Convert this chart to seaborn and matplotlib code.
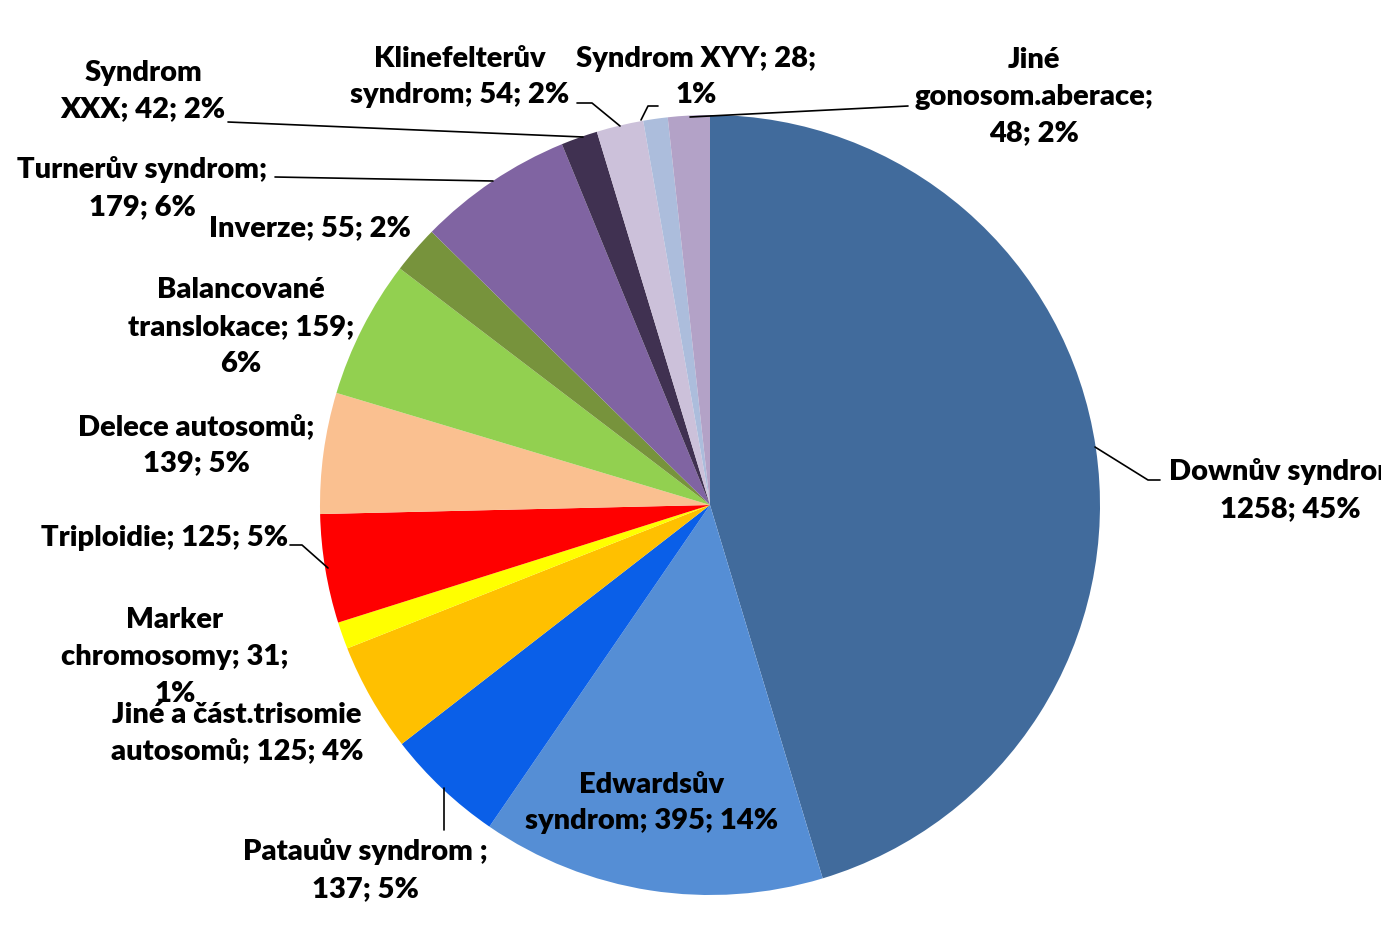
import matplotlib
matplotlib.use("Agg")
import matplotlib.pyplot as plt
import seaborn as sns

# data (clockwise from 12 o'clock)
kategorie = ["Downův syndrom", "Edwardsův syndrom", "Patauův syndrom", "Jiné a část.trisomie autosomů",
             "Marker chromosomy", "Triploidie", "Delece autosomů", "Balancované translokace",
             "Inverze", "Turnerův syndrom", "Syndrom XXX", "Klinefelterův syndrom",
             "Syndrom XYY", "Jiné gonosom.aberace"]
pocty = [1258, 395, 137, 125, 31, 125, 139, 159, 55, 179, 42, 54, 28, 48]
procenta = [45, 14, 5, 4, 1, 5, 5, 6, 2, 6, 2, 2, 1, 2]
popisky = ["Downův syndrom;\n1258; 45%", "Edwardsův\nsyndrom; 395; 14%", "Patauův syndrom ;\n137; 5%",
           "Jiné a část.trisomie\nautosomů; 125; 4%", "Marker\nchromosomy; 31;\n1%",
           "Triploidie; 125; 5%", "Delece autosomů;\n139; 5%", "Balancované\ntranslokace; 159;\n6%",
           "Inverze; 55; 2%", "Turnerův syndrom;\n179; 6%", "Syndrom\nXXX; 42; 2%",
           "Klinefelterův\nsyndrom; 54; 2%", "Syndrom XYY; 28;\n1%", "Jiné\ngonosom.aberace;\n48; 2%"]

barvy = ["#416B9C", "#558ED5", "#0A5FE8", "#FFC000", "#FFFF00", "#FF0000", "#FAC090",
         "#92D050", "#77933C", "#8064A2", "#403151", "#CCC1DA", "#ACBDDC", "#B3A2C7"]

sns.set_theme(style="white")
plt.rcParams["font.family"] = ["Lato", "DejaVu Sans"]

W, H = 1381, 926
fig = plt.figure(figsize=(W / 100, H / 100), dpi=100)
ax = fig.add_axes([0, 0, 1, 1])

ax.pie(pocty, colors=barvy, startangle=90, counterclock=False,
       center=(710, H - 505), radius=390, wedgeprops={"linewidth": 0})
ax.set_xlim(0, W)
ax.set_ylim(0, H)
ax.set_aspect("equal")
ax.axis("off")

# label positions (image pixel coords, centre of text block)
pozice = [(1290, 490), (652, 803), (365, 870), (237, 733), (175, 657), (165, 538),
          (196, 445), (241, 327), (310, 228), (142, 188), (143, 91), (460, 77),
          (696, 77), (1034, 97)]
for txt, (px, py) in zip(popisky, pozice):
    ax.text(px, H - py, txt, ha="center", va="center", fontsize=21, fontweight="heavy",
            linespacing=1.5, color="black")

# leader lines
vodici = [
    [(1095, 447), (1148, 480), (1160, 480)],
    [(444, 788), (444, 830)],
    [(290, 545), (302, 545), (328, 568)],
    [(275, 177), (493, 181)],
    [(228, 122), (583, 137)],
    [(577, 103), (592, 103), (620, 126)],
    [(658, 106), (648, 106), (641, 120)],
    [(908, 106), (690, 117)],
]
for car in vodici:
    xs = [p[0] for p in car]
    ys = [H - p[1] for p in car]
    ax.plot(xs, ys, color="black", linewidth=1.2)

fig.savefig("out.png", dpi=100)
